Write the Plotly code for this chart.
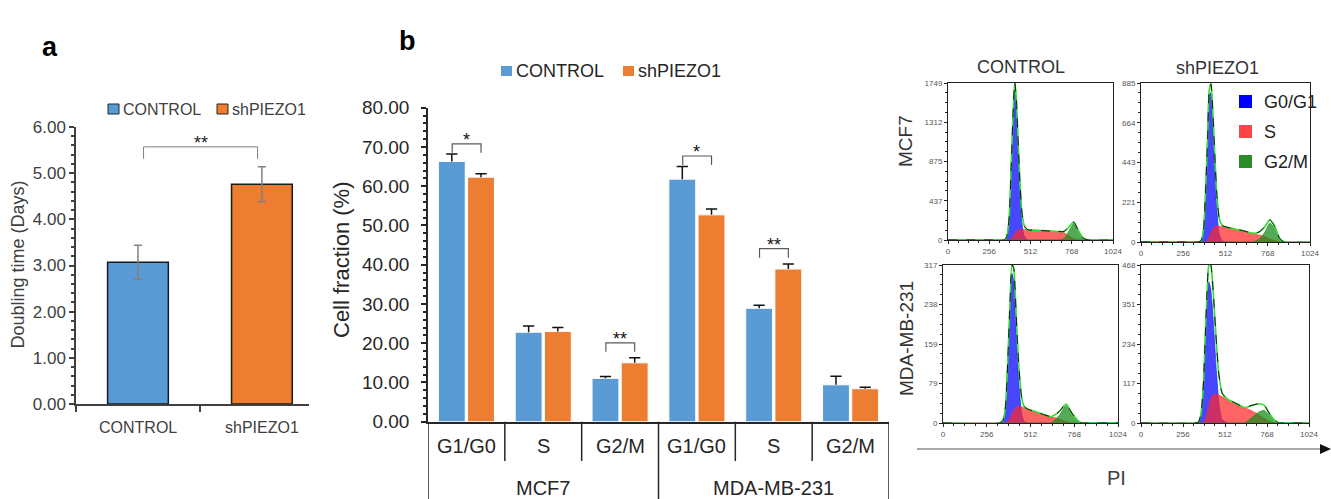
import plotly.graph_objects as go

FONT = "Liberation Sans, Arial, sans-serif"
BLUE = "#5B9BD5"
ORANGE = "#ED7D31"
W, H = 1331, 499


def px(x):
    return x / W


def py(y):
    return 1 - y / H


# ---------------- panel a: doubling time ----------------
a_groups = ["CONTROL", "shPIEZO1"]
a_means = [3.07, 4.76]
a_err = [0.37, 0.38]

# ---------------- panel b: cell-cycle fractions ----------------
b_phases = ["G1/G0", "S", "G2/M", "G1/G0", "S", "G2/M"]
b_lines = ["MCF7", "MDA-MB-231"]
b_control = [66.3, 22.8, 11.05, 61.8, 28.9, 9.4]
b_control_err = [1.9, 1.6, 0.45, 3.2, 0.8, 2.2]
b_sh = [62.3, 23.0, 15.0, 52.7, 38.9, 8.4]
b_sh_err = [0.9, 1.0, 1.3, 1.5, 1.3, 0.35]
sig_idx = [0, 2, 3, 4]
sig_text = ["*", "**", "*", "**"]
sig_level = [70.8, 20.1, 67.7, 44.1]

# ---------------- panel c: PI histograms ----------------
pi_channel = [0, 330, 350, 365, 380, 392, 404, 414, 424, 434, 446, 460, 475,
              495, 530, 580, 630, 680, 720, 750, 780, 810, 840, 870, 1024]

mcf7_ctrl_g1 = [0, 0, 0, 40, 260, 800, 1380, 1690, 1480, 1050, 550, 170, 35,
                0, 0, 0, 0, 0, 0, 0, 0, 0, 0, 0, 0]
mcf7_ctrl_s = [0, 0, 0, 0, 0, 10, 40, 70, 95, 110, 115, 118, 118,
               115, 110, 105, 100, 95, 80, 45, 15, 0, 0, 0, 0]
mcf7_ctrl_g2 = [0, 0, 0, 0, 0, 0, 0, 0, 0, 0, 0, 0, 0,
                0, 0, 0, 0, 0, 15, 100, 185, 100, 20, 0, 0]
mcf7_ctrl_max = 1749

mcf7_sh_g1 = [0, 0, 0, 10, 80, 300, 580, 820, 830, 680, 420, 170, 40,
              5, 0, 0, 0, 0, 0, 0, 0, 0, 0, 0, 0]
mcf7_sh_s = [0, 0, 0, 0, 0, 0, 10, 30, 50, 70, 85, 89, 88,
             85, 80, 70, 60, 48, 38, 30, 18, 8, 0, 0, 0]
mcf7_sh_g2 = [0, 0, 0, 0, 0, 0, 0, 0, 0, 0, 0, 0, 0,
              0, 0, 0, 0, 0, 20, 55, 105, 80, 20, 0, 0]
mcf7_sh_max = 885

mda_ctrl_g1 = [0, 0, 5, 30, 130, 230, 300, 285, 220, 140, 70, 20, 3,
               0, 0, 0, 0, 0, 0, 0, 0, 0, 0, 0, 0]
mda_ctrl_s = [0, 0, 0, 0, 3, 10, 18, 25, 30, 33, 33, 32, 30,
              28, 24, 18, 13, 8, 3, 0, 0, 0, 0, 0, 0]
mda_ctrl_g2 = [0, 0, 0, 0, 0, 0, 0, 0, 0, 0, 0, 0, 0,
               0, 0, 0, 0, 15, 35, 22, 8, 0, 0, 0, 0]
mda_ctrl_max = 317

mda_sh_g1 = [0, 0, 3, 25, 110, 250, 370, 418, 400, 350, 260, 150, 60,
             10, 0, 0, 0, 0, 0, 0, 0, 0, 0, 0, 0]
mda_sh_s = [0, 0, 0, 0, 0, 10, 30, 50, 70, 80, 85, 85, 82,
            78, 70, 58, 46, 35, 24, 15, 5, 0, 0, 0, 0]
mda_sh_g2 = [0, 0, 0, 0, 0, 0, 0, 0, 0, 0, 0, 0, 0,
             0, 0, 0, 0, 18, 33, 38, 25, 10, 0, 0, 0]
mda_sh_max = 468

phase_names = ["G0/G1", "S", "G2/M"]
phase_fill = ["rgba(10,10,255,0.75)", "rgba(255,40,40,0.72)", "rgba(30,140,30,0.75)"]
phase_key = ["#0000ff", "#ff4646", "#2a8c2a"]

fig = go.Figure()

# ---- panel a bars
for i, color in enumerate([BLUE, ORANGE]):
    fig.add_trace(go.Bar(
        x=[i], y=[a_means[i]], width=0.49, offset=-0.245,
        marker=dict(color=color, line=dict(color="#1a1a1a", width=1.5)),
        error_y=dict(type="data", array=[a_err[i]], color="#808080",
                     thickness=1.5, width=4),
        xaxis="x", yaxis="y", showlegend=False, hoverinfo="skip"))

# ---- panel b bars with one-sided (upper) error bars
BAR_W = 0.35
for vals, errs, color, off in [(b_control, b_control_err, BLUE, -0.365),
                               (b_sh, b_sh_err, ORANGE, 0.015)]:
    fig.add_trace(go.Bar(
        x=list(range(len(vals))), y=vals, width=BAR_W, offset=off,
        marker=dict(color=color, line=dict(color="white", width=1)),
        error_y=dict(type="data", array=errs, arrayminus=[0] * len(errs),
                     symmetric=False, color="#111111", thickness=1.5, width=0),
        xaxis="x2", yaxis="y2", showlegend=False, hoverinfo="skip"))
    # caps on the upper end only
    fig.add_trace(go.Scatter(
        x=[i + off + BAR_W / 2 for i in range(len(vals))],
        y=[v + e for v, e in zip(vals, errs)], mode="markers",
        marker=dict(symbol="line-ew-open", size=8, color="#111111",
                    line=dict(color="#111111", width=1.5)),
        xaxis="x2", yaxis="y2", showlegend=False, hoverinfo="skip"))

# ---- panel c histograms
hists = [
    ("x3", "y3", mcf7_ctrl_g1, mcf7_ctrl_s, mcf7_ctrl_g2),
    ("x4", "y4", mcf7_sh_g1, mcf7_sh_s, mcf7_sh_g2),
    ("x5", "y5", mda_ctrl_g1, mda_ctrl_s, mda_ctrl_g2),
    ("x6", "y6", mda_sh_g1, mda_sh_s, mda_sh_g2),
]
for xa, ya, g1, s, g2 in hists:
    for vals, fc in zip([g1, s, g2], phase_fill):
        fig.add_trace(go.Scatter(
            x=pi_channel, y=vals, mode="lines", fill="tozeroy", fillcolor=fc,
            line=dict(color=fc, width=0.8, shape="spline", smoothing=0.6),
            xaxis=xa, yaxis=ya, showlegend=False, hoverinfo="skip"))
    fit = [a + b + c for a, b, c in zip(g1, s, g2)]
    fig.add_trace(go.Scatter(
        x=pi_channel, y=fit, mode="lines",
        line=dict(color="#33dd33", width=1.6, shape="spline", smoothing=0.6),
        xaxis=xa, yaxis=ya, showlegend=False, hoverinfo="skip"))
    fig.add_trace(go.Scatter(
        x=pi_channel, y=fit, mode="lines",
        line=dict(color="#111111", width=1, dash="dash", shape="spline", smoothing=0.6),
        xaxis=xa, yaxis=ya, showlegend=False, hoverinfo="skip"))

shapes = []
ann = []


def label(text, x, y, xref="paper", yref="paper", size=16, color="#262626",
          xanchor="center", angle=0, yshift=0):
    ann.append(dict(text=text, x=x, y=y, xref=xref, yref=yref, showarrow=False,
                    xanchor=xanchor, yanchor="middle", textangle=angle, yshift=yshift,
                    font=dict(size=size, color=color)))


# ---- panel a decorations
label("<b>a</b>", px(50), py(47), size=27, color="black")
label("Doubling time (Days)", px(17.5), py(265), size=18, color="#404040", angle=-90)
for i, g in enumerate(a_groups):
    label(g, i, py(427), xref="x", size=16, color="#404040")
a_top = 5.57
a_drop = 0.26
shapes.append(dict(type="path", xref="x", yref="y",
                   path=f"M0.045,{a_top - a_drop} L0.045,{a_top} L0.965,{a_top} L0.965,{a_top - a_drop}",
                   line=dict(color="#808080", width=1)))
label("**", 0.505, a_top, xref="x", yref="y", size=18, color="#262626", yshift=4)
for name, color, x0 in [("CONTROL", BLUE, 108), ("shPIEZO1", ORANGE, 217)]:
    shapes.append(dict(type="rect", xref="paper", yref="paper",
                       x0=px(x0), x1=px(x0 + 11), y0=py(114), y1=py(104),
                       fillcolor=color, line=dict(color="#262626", width=1)))
    label(name, px(x0 + 13), py(109), size=16, color="#404040", xanchor="left")

# ---- panel b decorations
label("<b>b</b>", px(408), py(41), size=27, color="black")
label("Cell fraction (%)", px(341), py(260), size=22, color="#262626", angle=-90)
for i, ph in enumerate(b_phases):
    label(ph, i, py(446), xref="x2", size=20)
for j, ln in enumerate(b_lines):
    label(ln, 1 + 3 * j, py(488), xref="x2", size=20)
for k in range(7):
    xb = k - 0.5
    shapes.append(dict(type="line", xref="x2", yref="paper", x0=xb, x1=xb,
                       y0=py(421.7), y1=py(499 if k % 3 == 0 else 461),
                       line=dict(color="#262626", width=1.5)))
for gi, txt, lvl in zip(sig_idx, sig_text, sig_level):
    x0, x1 = gi - 0.185, gi + 0.19
    shapes.append(dict(type="path", xref="x2", yref="y2",
                       path=f"M{x0},{lvl - 2.3} L{x0},{lvl} L{x1},{lvl} L{x1},{lvl - 2.3}",
                       line=dict(color="#595959", width=1.2)))
    label(txt, gi, lvl, xref="x2", yref="y2", size=18, color="#111111", yshift=4)
for name, color, x0 in [("CONTROL", BLUE, 501), ("shPIEZO1", ORANGE, 623)]:
    shapes.append(dict(type="rect", xref="paper", yref="paper",
                       x0=px(x0), x1=px(x0 + 11), y0=py(76), y1=py(66),
                       fillcolor=color, line=dict(width=0)))
    label(name, px(x0 + 13), py(71), size=18, xanchor="left")

# ---- panel c decorations
label("CONTROL", px(1021), py(67), size=18, color="#333333")
label("shPIEZO1", px(1217), py(68), size=18, color="#333333")
label("MCF7", px(906), py(141), size=19, color="#333333", angle=-90)
label("MDA-MB-231", px(906), py(339), size=19, color="#333333", angle=-90)
for k, (nm, col) in enumerate(zip(phase_names, phase_key)):
    yc = 101.5 + 30 * k
    shapes.append(dict(type="rect", xref="paper", yref="paper",
                       x0=px(1239), x1=px(1252), y0=py(yc + 6.5), y1=py(yc - 6.5),
                       fillcolor=col, line=dict(width=0)))
    label(nm, px(1262), py(yc), size=18, color="#222222", xanchor="left")
shapes.append(dict(type="line", xref="paper", yref="paper", x0=px(917), x1=px(1322),
                   y0=py(449), y1=py(449), line=dict(color="#8c8c8c", width=1.5)))
shapes.append(dict(type="path", xref="paper", yref="paper",
                   path=f"M{px(1320)},{py(444)} L{px(1331)},{py(449)} L{px(1320)},{py(454)} Z",
                   fillcolor="#111111", line=dict(width=0)))
label("PI", px(1116), py(478), size=20, color="#404040")


def hist_axes(xdom, ydom, ymax, xname, yname):
    xa = dict(domain=[px(xdom[0]), px(xdom[1])], range=[0, 1024], anchor=yname,
              showline=True, mirror=True, linecolor="#222222", linewidth=1,
              tickmode="array", tickvals=[0, 256, 512, 768, 1024],
              ticks="outside", ticklen=3, tickcolor="#222222",
              minor=dict(dtick=64, tick0=0, ticks="outside", ticklen=2, showgrid=False),
              tickfont=dict(size=8, color="#555555"), showgrid=False, zeroline=False,
              automargin=False)
    tv = [ymax * q / 4 for q in range(5)]
    ya = dict(domain=[py(ydom[1]), py(ydom[0])], range=[0, ymax], anchor=xname,
              showline=True, mirror=True, linecolor="#222222", linewidth=1,
              tickmode="array", tickvals=tv, ticktext=[str(int(v + 0.5)) for v in tv],
              ticks="outside", ticklen=3, tickcolor="#222222",
              minor=dict(dtick=ymax / 16, tick0=0, ticks="outside", ticklen=2, showgrid=False),
              tickfont=dict(size=8, color="#555555"), showgrid=False, zeroline=False,
              automargin=False)
    return xa, ya


x3, y3 = hist_axes((948, 1113), (83, 240), mcf7_ctrl_max, "x3", "y3")
x4, y4 = hist_axes((1141, 1310), (83, 242), mcf7_sh_max, "x4", "y4")
x5, y5 = hist_axes((943, 1118), (265, 423), mda_ctrl_max, "x5", "y5")
x6, y6 = hist_axes((1141, 1309), (265, 423), mda_sh_max, "x6", "y6")

fig.update_layout(
    width=W, height=H, margin=dict(l=0, r=0, t=0, b=0, pad=0, autoexpand=False),
    paper_bgcolor="white", plot_bgcolor="white",
    font=dict(family=FONT), barmode="overlay", showlegend=False,
    xaxis=dict(domain=[px(76), px(309)], range=[-0.5, 1.38], anchor="y",
               showline=True, linecolor="#404040", linewidth=1.5,
               tickmode="array", tickvals=[-0.5, 0.5], ticktext=["", ""],
               ticks="outside", ticklen=6, tickwidth=1.5, tickcolor="#404040",
               showgrid=False, zeroline=False, automargin=False),
    yaxis=dict(domain=[py(404), py(127)], range=[0, 6], anchor="x",
               showline=True, linecolor="#404040", linewidth=1.5,
               dtick=1, tickformat=".2f", ticks="outside", ticklen=5,
               tickwidth=1.5, tickcolor="#404040",
               minor=dict(dtick=0.2, ticks="outside", ticklen=3, tickcolor="#404040",
                          showgrid=False),
               tickfont=dict(size=17, color="#404040"), showgrid=False, zeroline=False,
               automargin=False),
    xaxis2=dict(domain=[px(428), px(889)], range=[-0.5, 5.5], anchor="y2",
                showline=True, linecolor="#262626", linewidth=1.5,
                showticklabels=False, ticks="", showgrid=False, zeroline=False,
                automargin=False),
    yaxis2=dict(domain=[py(421.7), py(107.7)], range=[0, 80], anchor="x2",
                showline=True, linecolor="#262626", linewidth=1.5,
                dtick=10, tickformat=".2f", ticks="outside", ticklen=5,
                tickwidth=1.5, tickcolor="#262626", ticklabelstandoff=8,
                minor=dict(dtick=2, ticks="outside", ticklen=3, tickcolor="#262626",
                           showgrid=False),
                tickfont=dict(size=19, color="#262626"), showgrid=False, zeroline=False,
                automargin=False),
    xaxis3=x3, yaxis3=y3, xaxis4=x4, yaxis4=y4,
    xaxis5=x5, yaxis5=y5, xaxis6=x6, yaxis6=y6,
    shapes=shapes, annotations=ann,
)

fig.write_html("out.html")
